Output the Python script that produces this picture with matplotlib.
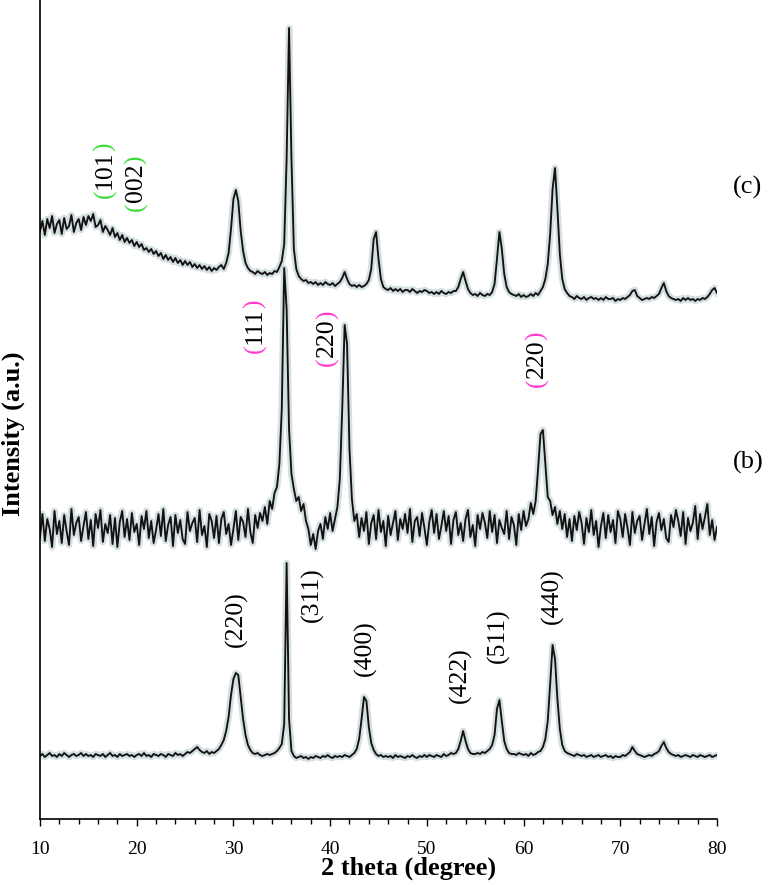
import matplotlib
matplotlib.use("Agg")
import matplotlib.pyplot as plt
import matplotlib.patheffects as pe
from matplotlib.ticker import MultipleLocator
import numpy as np

plt.rcParams["font.family"] = "serif"
plt.rcParams["font.serif"] = ["Liberation Serif", "DejaVu Serif"]

# scan grid, 2 theta in degrees (0.25 deg step)
two_theta = np.arange(10, 80.001, 0.25)

# (a) bottom pattern, intensity a.u.
counts_a = [
    63, 65, 62, 64, 66, 63, 64, 62, 65, 63, 66, 64, 62, 64, 65, 63, 64, 66, 63, 65,
    63, 64, 62, 65, 64, 63, 65, 62, 64, 66, 63, 64, 62, 65, 63, 64, 65, 63, 64, 62,
    64, 65, 63, 66, 63, 64, 62, 65, 64, 63, 65, 64, 62, 65, 64, 63, 66, 64, 65, 63,
    65, 67, 66, 68, 70, 72, 69, 67, 66, 68, 65, 67, 66, 68, 70, 74, 79, 88, 102, 124,
    140, 146, 144, 122, 100, 84, 74, 69, 66, 65, 66, 64, 63, 64, 65, 64, 65, 66, 68, 71,
    75, 95, 256, 100, 68, 63, 61, 62, 63, 61, 62, 60, 62, 61, 63, 62, 61, 63, 62, 64,
    62, 61, 63, 62, 63, 62, 64, 63, 62, 64, 66, 70, 80, 100, 122, 118, 92, 76, 69, 65,
    63, 64, 62, 63, 62, 63, 61, 64, 62, 63, 62, 61, 63, 62, 64, 62, 61, 63, 62, 64,
    62, 64, 63, 62, 64, 63, 62, 65, 63, 64, 66, 65, 66, 70, 78, 88, 78, 70, 66, 65,
    65, 66, 65, 67, 66, 68, 70, 74, 84, 110, 119, 98, 78, 70, 66, 65, 65, 64, 66, 65,
    64, 65, 63, 66, 64, 65, 67, 68, 72, 80, 98, 135, 174, 160, 120, 90, 74, 68, 66, 65,
    64, 63, 65, 64, 63, 64, 62, 63, 64, 62, 63, 64, 62, 63, 64, 62, 63, 61, 63, 62,
    62, 64, 63, 65, 67, 72, 68, 65, 64, 63, 62, 63, 64, 63, 65, 66, 68, 73, 77, 71,
    67, 65, 64, 63, 64, 62, 63, 64, 63, 62, 64, 63, 62, 64, 63, 62, 63, 64, 62, 63,
    64,
]

# (b) middle pattern
counts_b = [
    22, 45, 18, 40, 30, 12, 48, 25, 38, 16, 44, 28, 14, 50, 24, 36, 42, 18, 33, 47,
    20, 39, 13, 45, 31, 49, 17, 35, 26, 44, 15, 41, 12, 37, 48, 22, 40, 19, 46, 27,
    35, 14, 43, 30, 48, 21, 38, 16, 29, 45, 23, 50, 18, 34, 42, 13, 44, 26, 39, 20,
    15, 47, 28, 36, 41, 17, 49, 24, 33, 12, 45, 38, 21, 43, 16, 40, 47, 25, 35, 14,
    30, 48, 19, 42, 37, 22, 50, 27, 16, 44, 31, 46, 38, 52, 35, 58, 50, 66, 72, 95,
    150, 291, 250, 130, 85, 70, 58, 62, 48, 55, 38, 30, 14, 25, 10, 28, 35, 20, 42, 30,
    46, 28, 40, 52, 80, 150, 234, 215, 110, 60, 38, 45, 22, 41, 28, 47, 15, 36, 44, 20,
    49, 27, 38, 13, 43, 24, 36, 48, 19, 40, 30, 45, 26, 50, 17, 38, 42, 23, 46, 31,
    14, 37, 49, 26, 45, 20, 33, 48, 28, 43, 15, 39, 47, 24, 36, 18, 40, 49, 22, 34,
    13, 44, 30, 46, 36, 21, 48, 27, 44, 16, 39, 31, 25, 48, 20, 42, 34, 14, 45, 29,
    48, 33, 40, 56, 45, 58, 90, 125, 129, 95, 62, 58, 44, 52, 35, 48, 30, 45, 22, 40,
    18, 43, 29, 47, 36, 15, 41, 27, 49, 24, 38, 12, 33, 46, 21, 44, 27, 39, 16, 48,
    40, 22, 45, 31, 14, 47, 26, 38, 43, 19, 35, 50, 25, 42, 13, 37, 46, 29, 40, 21,
    17, 44, 32, 49, 38, 23, 47, 15, 41, 28, 36, 53, 20, 45, 30, 42, 55, 24, 39, 19,
    32,
]

# (c) top pattern
counts_c = [
    98, 108, 94, 110, 101, 113, 96, 105, 109, 95, 111, 100, 103, 114, 97, 106, 110, 99, 112, 104,
    113, 108, 115, 102, 104, 109, 97, 103, 99, 94, 101, 92, 96, 89, 94, 87, 91, 86, 89, 83,
    87, 82, 85, 79, 81, 77, 80, 75, 78, 73, 76, 70, 74, 69, 72, 67, 71, 66, 69, 64,
    68, 64, 67, 62, 65, 61, 64, 60, 63, 59, 62, 58, 61, 59, 62, 64, 60, 66, 76, 100,
    130, 139, 128, 98, 78, 66, 61, 58, 57, 55, 58, 56, 55, 57, 54, 56, 55, 58, 57, 62,
    68, 85, 170, 301, 170, 80, 60, 53, 50, 48, 49, 46, 47, 45, 47, 44, 46, 44, 47, 45,
    44, 46, 43, 45, 47, 51, 57, 50, 45, 43, 44, 42, 44, 42, 43, 45, 49, 60, 90, 97,
    70, 50, 42, 40, 39, 41, 38, 40, 38, 40, 37, 39, 39, 37, 40, 38, 36, 38, 37, 39,
    38, 36, 37, 35, 37, 35, 38, 36, 35, 37, 36, 38, 38, 42, 50, 57, 48, 40, 36, 34,
    35, 33, 36, 34, 33, 35, 34, 37, 45, 70, 97, 80, 55, 42, 37, 35, 34, 33, 35, 32,
    34, 32, 33, 35, 33, 36, 34, 38, 42, 50, 65, 95, 140, 161, 120, 75, 50, 40, 36, 33,
    32, 30, 33, 31, 30, 32, 29, 31, 32, 30, 31, 29, 31, 29, 32, 30, 30, 31, 28, 30,
    29, 31, 30, 32, 34, 38, 39, 33, 31, 29, 30, 31, 30, 32, 31, 33, 35, 41, 46, 38,
    33, 31, 30, 29, 30, 28, 31, 29, 31, 29, 30, 28, 30, 29, 31, 30, 32, 35, 39, 41,
    36,
]

offsets = {"a": 0, "b": 260, "c": 490}
line_fx = [pe.Stroke(linewidth=4.8, foreground="#c3d2d5", alpha=0.7), pe.Normal()]

fig = plt.figure(figsize=(7.74, 8.85), dpi=100)
ax = fig.add_axes([40 / 774, 66 / 885, 677 / 774, 819 / 885])

for key, counts in (("a", counts_a), ("b", counts_b), ("c", counts_c)):
    ax.plot(two_theta, np.array(counts) + offsets[key], color="#121212", lw=1.35,
            path_effects=line_fx)

ax.set_xlim(10, 80)
ax.set_ylim(0, 819)
ax.set_yticks([])
ax.xaxis.set_major_locator(MultipleLocator(10))
ax.xaxis.set_minor_locator(MultipleLocator(2))
ax.tick_params(axis="x", which="major", direction="out", length=5, width=1, pad=11, labelsize=14)
ax.tick_params(axis="x", which="minor", direction="out", length=3.5, width=1)
for side in ("top", "right"):
    ax.spines[side].set_visible(False)
for side in ("left", "bottom"):
    ax.spines[side].set_linewidth(1.2)

ax.set_xlabel("2 theta (degree)", fontsize=19, fontweight="bold")
ax.xaxis.set_label_coords(0.545, -0.046)
ax.set_ylabel("Intensity (a.u.)", fontsize=19, fontweight="bold")
ax.yaxis.set_label_coords(-0.022, 0.47)

# reflection labels: text, 2theta, height, colour of the brackets
hkl = [
    ("(101)", 16.72, 649, "#3ddc3d"),
    ("(002)", 19.93, 636, "#3ddc3d"),
    ("(111)", 32.23, 493, "#ff3dcc"),
    ("(220)", 39.7, 481, "#ff3dcc"),
    ("(220)", 61.4, 460, "#ff3dcc"),
    ("(220)", 30.27, 200, None),
    ("(311)", 38.2, 224, None),
    ("(400)", 43.6, 171, None),
    ("(422)", 53.5, 144, None),
    ("(511)", 57.4, 183, None),
    ("(440)", 63.0, 223, None),
]

FS = 18.5
renderer = fig.canvas.get_renderer()
inv = ax.transData.inverted()


def text_length(s):
    t = ax.text(0, 0, s, rotation=90, fontsize=FS)
    h = t.get_window_extent(renderer).height
    t.remove()
    return h


for text, x, y, col in hkl:
    if col is None:
        ax.text(x, y, text, rotation=90, ha="center", va="center", fontsize=FS)
        continue
    # brackets in colour, indices in black
    digits = text[1:-1]
    paren_len = text_length("(")
    dig_len = text_length(digits)
    gap = 0.2 * (text_length(text) - dig_len - 2 * paren_len) / 2
    full_len = dig_len + 2 * (paren_len + gap)
    _, y_disp = ax.transData.transform((x, y))
    start = y_disp - full_len / 2
    pieces = [("(", start, col),
              (digits, start + paren_len + gap, "black"),
              (")", start + full_len - paren_len, col)]
    for s, yd, c in pieces:
        _, yy = inv.transform((0, yd))
        ax.text(x, yy, s, rotation=90, ha="center", va="bottom", fontsize=FS, color=c)

ax.text(83.2, 632, "(c)", ha="center", va="center", fontsize=19, clip_on=False)
ax.text(83.2, 357, "(b)", ha="center", va="center", fontsize=19, clip_on=False)

fig.savefig("out.png", dpi=100)
